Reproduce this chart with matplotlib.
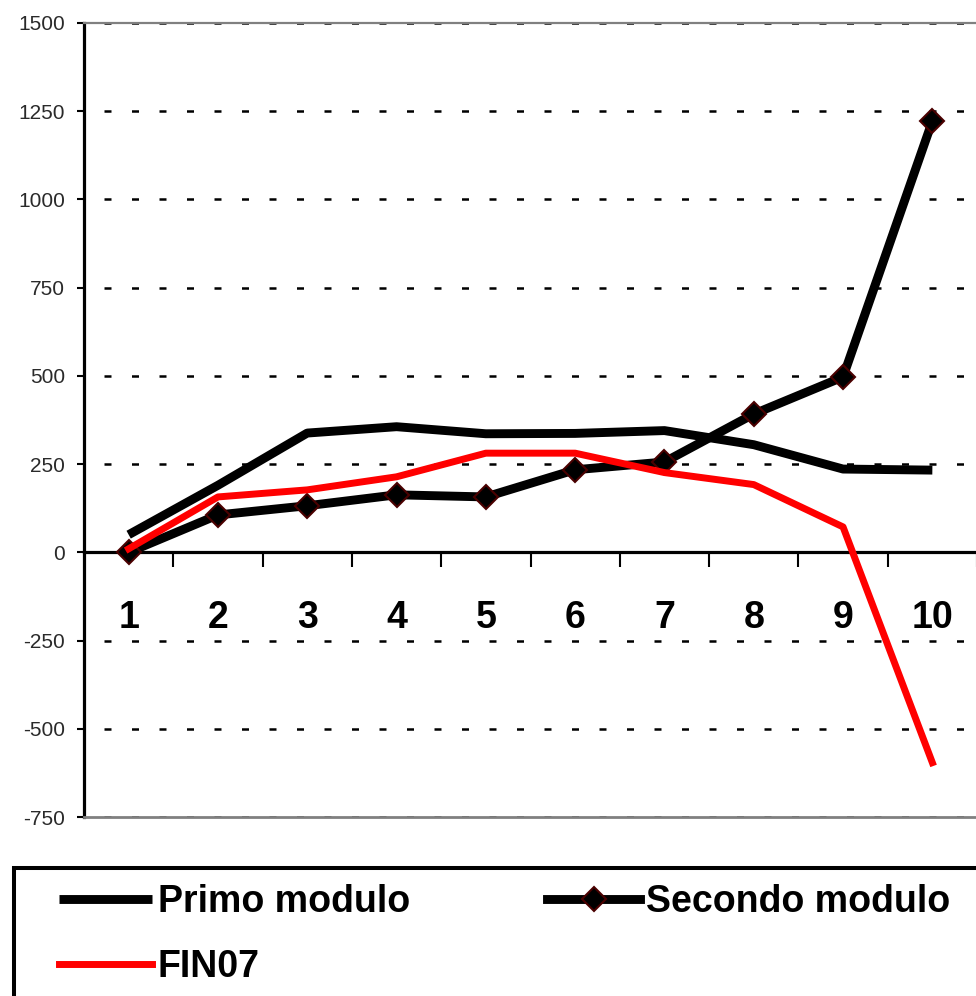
import numpy as np
import matplotlib
matplotlib.use("Agg")
import matplotlib.pyplot as plt
from matplotlib import font_manager as fm
from matplotlib.patches import Rectangle

# ---- data ----
categories = ['1', '2', '3', '4', '5', '6', '7', '8', '9', '10']
primo = [50, 190, 338, 356, 336, 337, 345, 305, 236, 233]
secondo = [0, 106, 132, 163, 157, 234, 256, 392, 497, 1222]
fin07 = [10, 157, 177, 214, 281, 281, 226, 192, 72, -596]
y_ticks = [-750, -500, -250, 0, 250, 500, 750, 1000, 1250, 1500]
y_labels = ['-750', '-500', '-250', '0', '250', '500', '750', '1000', '1250', '1500']
series_names = ['Primo modulo', 'Secondo modulo', 'FIN07']

avail = {f.name for f in fm.fontManager.ttflist}
sans = 'Liberation Sans' if 'Liberation Sans' in avail else 'DejaVu Sans'
narrow = 'Liberation Sans Narrow' if 'Liberation Sans Narrow' in avail else None
plt.rcParams['font.family'] = [sans, 'DejaVu Sans']
plt.rcParams['axes.unicode_minus'] = False

W, H = 976, 996
fig = plt.figure(figsize=(W / 100, H / 100), dpi=100)
fig.patch.set_facecolor('white')
ax = fig.add_axes([84 / W, 1 - 817 / H, (977 - 84) / W, (817 - 23) / H])

x = np.arange(1, len(categories) + 1)

l1, = ax.plot(x, primo, color='black', lw=6.4, solid_capstyle='butt', label=series_names[0], zorder=3)
l2, = ax.plot(x, secondo, color='black', lw=6.4, marker='D', markersize=12,
              mfc='black', mec='#4a0000', mew=1.5, label=series_names[1], zorder=4)
l3, = ax.plot(x, fin07, color='#ff0000', lw=5.0, label=series_names[2], zorder=5)

ax.set_xlim(0.5, len(categories) + 0.5)
ax.set_ylim(y_ticks[0], y_ticks[-1])

# spines
ax.spines['right'].set_visible(False)
ax.spines['top'].set_color('#808080')
ax.spines['top'].set_linewidth(1.6)
ax.spines['left'].set_color('black')
ax.spines['left'].set_linewidth(2.3)
ax.spines['bottom'].set_position(('data', 0))
ax.spines['bottom'].set_color('black')
ax.spines['bottom'].set_linewidth(2.3)
ax.axhline(y_ticks[0], color='#808080', lw=2.0, clip_on=False, zorder=6)

# y axis
ax.set_yticks(y_ticks)
ax.set_yticklabels(y_labels)
ax.tick_params(axis='y', direction='out', length=5, width=1.5, pad=8.5,
               labelsize=15, labelcolor='#2a2a2a', color='black')

# x axis
ax.set_xticks(x)
if narrow:
    ax.set_xticklabels(categories, family=narrow, fontweight='bold', fontsize=29)
else:
    ax.set_xticklabels(categories, fontweight='bold', fontsize=27)
ax.set_xticks(x + 0.5, minor=True)
ax.tick_params(axis='x', which='major', length=0, pad=34)
ax.tick_params(axis='x', which='minor', direction='out', length=11, width=1.5, color='black')

# grid
ax.set_axisbelow(True)
ax.yaxis.grid(True, color='black', lw=1.8, linestyle=(3.0, (2.8, 8.2)))
ax.xaxis.grid(False)

# legend (row-wise order: Primo, Secondo / FIN07)
leg = fig.legend([l1, l3, l2], [series_names[0], series_names[2], series_names[1]],
                 loc='upper left', bbox_to_anchor=(59 / W, 1 - 884 / H),
                 ncol=2, frameon=False, borderpad=0, borderaxespad=0,
                 handlelength=2.48, handletextpad=0.16, columnspacing=3.65,
                 labelspacing=0.77, prop={'family': sans, 'weight': 'bold', 'size': 27})
fig.patches.append(Rectangle((14 / W, -0.05), 1.0, 0.05 + (1 - 868 / H), transform=fig.transFigure,
                             fill=False, ec='black', lw=2.9))

fig.savefig('out.png', dpi=100, facecolor='white')
